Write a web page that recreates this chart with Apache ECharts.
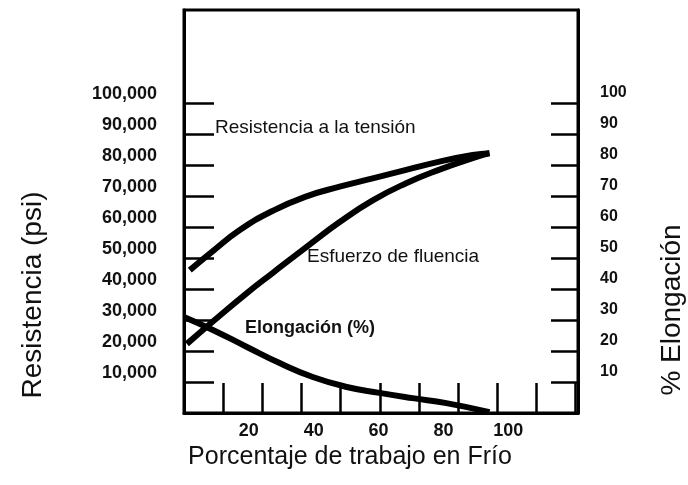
<!DOCTYPE html>
<html>
<head>
<meta charset="utf-8">
<script src="https://cdn.jsdelivr.net/npm/echarts@6/dist/echarts.min.js"></script>
<style>html,body{margin:0;padding:0;background:#fff;}#c{width:688px;height:485px;}</style>
</head>
<body>
<div id="c"></div>
<script>
// Data (x: % cold work)
var tensileX = [1.8, 8.9, 17.2, 27.5, 37.8, 48, 58.2, 68.5, 78.8, 89, 94.2];
var tensileY = [46100, 52200, 59000, 65300, 69900, 73000, 75700, 78400, 81100, 83200, 83800];
var yieldX = [0.9, 8.9, 19.3, 27.5, 37.8, 48, 58.2, 68.5, 78.8, 89, 94.2];
var yieldY = [22300, 29500, 38600, 45300, 53600, 61600, 68600, 74100, 78500, 82200, 83800];
var elongX = [0, 8.9, 19.4, 29.5, 39.7, 50.2, 60.3, 70.5, 80.9, 94.2];
var elongY = [31, 26.8, 21.3, 16.1, 11.6, 8.4, 6.5, 4.8, 3.2, 0.3];

var leftTickValues = [10000, 20000, 30000, 40000, 50000, 60000, 70000, 80000, 90000, 100000];
var leftTickLabels = ['10,000', '20,000', '30,000', '40,000', '50,000', '60,000', '70,000', '80,000', '90,000', '100,000'];
var rightTickValues = [10, 20, 30, 40, 50, 60, 70, 80, 90, 100];
var rightTickLabels = ['10', '20', '30', '40', '50', '60', '70', '80', '90', '100'];
var xTickValues = [20, 40, 60, 80, 100];
var xTickLabels = ['20', '40', '60', '80', '100'];

var seriesNames = ['Resistencia a la tensión', 'Esfuerzo de fluencia', 'Elongación (%)'];
var axisTitles = ['Porcentaje de trabajo en Frío', 'Resistencia (psi)', '% Elongación'];

function pairs(xs, ys) { return xs.map(function (x, i) { return [x, ys[i]]; }); }
function lookup(vals, labels) {
  return function (v) { var i = vals.indexOf(Math.round(v)); return i >= 0 ? labels[i] : ''; };
}

var FONT = "'Liberation Sans', Arial, sans-serif";
var INK = '#111';
var chart = echarts.init(document.getElementById('c'), null, { renderer: 'canvas' });
var lineStyle = { color: '#000', width: 6 };

chart.setOption({
  animation: false,
  backgroundColor: '#fff',
  grid: { left: 184, right: 110, top: 10, bottom: 72, show: true, borderColor: '#000', borderWidth: 3, backgroundColor: 'transparent' },
  xAxis: [
    {
      type: 'value', min: 0, max: 121.5, interval: 20, position: 'bottom',
      axisLine: { show: true, onZero: false, lineStyle: { color: '#000', width: 3 } },
      axisTick: { show: false }, splitLine: { show: false },
      axisLabel: { customValues: xTickValues, formatter: lookup(xTickValues, xTickLabels), color: INK, fontFamily: FONT, fontSize: 18, fontWeight: 'bold', margin: 9 }
    },
    {
      type: 'value', min: 0, max: 10.06, interval: 1, position: 'bottom',
      axisLine: { show: false, onZero: false },
      axisTick: { show: true, inside: true, length: 30, lineStyle: { color: '#000', width: 2.5 } },
      axisLabel: { show: false }, splitLine: { show: false }
    }
  ],
  yAxis: [
    {
      type: 'value', min: 0, max: 130000, interval: 10000, position: 'left',
      axisLine: { show: true, onZero: false, lineStyle: { color: '#000', width: 3 } },
      axisTick: { show: true, inside: true, length: 30, customValues: leftTickValues, lineStyle: { color: '#000', width: 2.5 } },
      splitLine: { show: false },
      axisLabel: { customValues: leftTickValues, formatter: lookup(leftTickValues, leftTickLabels), color: INK, fontFamily: FONT, fontSize: 18, fontWeight: 'bold', margin: 27, verticalAlign: 'bottom' }
    },
    {
      type: 'value', min: 0, max: 130, interval: 10, position: 'right',
      axisLine: { show: true, onZero: false, lineStyle: { color: '#000', width: 3 } },
      axisTick: { show: true, inside: true, length: 27, customValues: rightTickValues, lineStyle: { color: '#000', width: 2.5 } },
      splitLine: { show: false },
      axisLabel: { customValues: rightTickValues, formatter: lookup(rightTickValues, rightTickLabels), color: INK, fontFamily: FONT, fontSize: 16, fontWeight: 'bold', margin: 22, verticalAlign: 'bottom', padding: [0, 0, 2, 0] }
    }
  ],
  series: [
    { name: seriesNames[0], type: 'line', xAxisIndex: 0, yAxisIndex: 0, data: pairs(tensileX, tensileY), smooth: 0.5, symbol: 'none', lineStyle: lineStyle },
    { name: seriesNames[1], type: 'line', xAxisIndex: 0, yAxisIndex: 0, data: pairs(yieldX, yieldY), smooth: 0.5, symbol: 'none', lineStyle: lineStyle },
    { name: seriesNames[2], type: 'line', xAxisIndex: 0, yAxisIndex: 1, data: pairs(elongX, elongY), smooth: 0.5, symbol: 'none', lineStyle: lineStyle }
  ],
  graphic: [
    { type: 'text', x: 215, y: 128, style: { text: seriesNames[0], font: '19px ' + FONT, fill: INK, align: 'left', verticalAlign: 'middle' } },
    { type: 'text', x: 307, y: 257, style: { text: seriesNames[1], font: '19px ' + FONT, fill: INK, align: 'left', verticalAlign: 'middle' } },
    { type: 'text', x: 245, y: 328, style: { text: seriesNames[2], font: 'bold 18px ' + FONT, fill: INK, align: 'left', verticalAlign: 'middle' } },
    { type: 'text', x: 350, y: 457, style: { text: axisTitles[0], font: '25px ' + FONT, fill: INK, align: 'center', verticalAlign: 'middle' } },
    { type: 'text', x: 33, y: 295, rotation: Math.PI / 2, style: { text: axisTitles[1], font: '28px ' + FONT, fill: INK, align: 'center', verticalAlign: 'middle' } },
    { type: 'text', x: 672, y: 310, rotation: Math.PI / 2, style: { text: axisTitles[2], font: '28px ' + FONT, fill: INK, align: 'center', verticalAlign: 'middle' } }
  ]
});
</script>
</body>
</html>
